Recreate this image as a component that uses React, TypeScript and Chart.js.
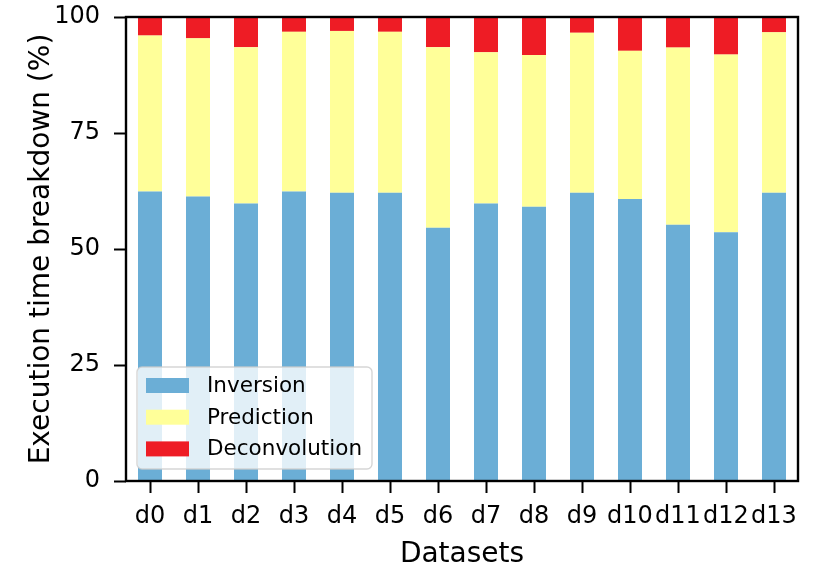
import React, { useEffect, useRef } from "react";
import { Chart, registerables } from "chart.js";

Chart.register(...registerables);

const categories = ["d0", "d1", "d2", "d3", "d4", "d5", "d6", "d7", "d8", "d9", "d10", "d11", "d12", "d13"];
const inversion = [62.4, 61.3, 59.8, 62.4, 62.1, 62.1, 54.6, 59.8, 59.1, 62.1, 60.8, 55.2, 53.6, 62.1];
const prediction = [33.6, 34.1, 33.7, 34.4, 34.9, 34.7, 38.9, 32.6, 32.7, 34.5, 31.9, 38.2, 38.3, 34.6];
const deconvolution = [4.0, 4.6, 6.5, 3.2, 3.0, 3.2, 6.5, 7.6, 8.2, 3.4, 7.3, 6.6, 8.1, 3.3];
const seriesNames = ["Inversion", "Prediction", "Deconvolution"];
const seriesColors = ["#6baed6", "#ffff99", "#ee1c25"];
const yTickValues = [0, 25, 50, 75, 100];
const xTitle = "Datasets";
const yTitle = "Execution time breakdown (%)";

const FONT = "'DejaVu Sans', sans-serif";

const framePlugin = {
  id: "mplFrame",
  afterDraw(chart: any) {
    const { ctx, chartArea: ca } = chart;
    ctx.save();
    // spines
    ctx.strokeStyle = "#000";
    ctx.lineWidth = 2.4;
    ctx.strokeRect(ca.left, ca.top, ca.right - ca.left, ca.bottom - ca.top);

    // legend
    const bx = ca.left + 11;
    const by = ca.bottom - 114;
    const bw = 235;
    const bh = 102;
    const r = 5;
    ctx.beginPath();
    ctx.moveTo(bx + r, by);
    ctx.lineTo(bx + bw - r, by);
    ctx.arcTo(bx + bw, by, bx + bw, by + r, r);
    ctx.lineTo(bx + bw, by + bh - r);
    ctx.arcTo(bx + bw, by + bh, bx + bw - r, by + bh, r);
    ctx.lineTo(bx + r, by + bh);
    ctx.arcTo(bx, by + bh, bx, by + bh - r, r);
    ctx.lineTo(bx, by + r);
    ctx.arcTo(bx, by, bx + r, by, r);
    ctx.closePath();
    ctx.fillStyle = "rgba(255,255,255,0.8)";
    ctx.fill();
    ctx.strokeStyle = "rgba(204,204,204,0.8)";
    ctx.lineWidth = 1.4;
    ctx.stroke();

    ctx.font = `21.5px ${FONT}`;
    ctx.textBaseline = "middle";
    ctx.textAlign = "left";
    chart.data.datasets.forEach((ds: any, i: number) => {
      const cy = by + 18.5 + i * 31.7;
      ctx.fillStyle = ds.backgroundColor;
      ctx.fillRect(bx + 9, cy - 7.5, 43, 15);
      ctx.fillStyle = "#000";
      ctx.fillText(ds.label, bx + 70, cy + 1);
    });
    ctx.restore();
  },
};

export default function App() {
  const ref = useRef<HTMLCanvasElement | null>(null);

  useEffect(() => {
    if (!ref.current) return;
    Chart.defaults.color = "#000";
    const seriesValues = [inversion, prediction, deconvolution];
    const chart = new Chart(ref.current, {
      type: "bar",
      data: {
        labels: categories,
        datasets: seriesNames.map((name, i) => ({
          label: name,
          data: seriesValues[i],
          backgroundColor: seriesColors[i],
          borderWidth: 0,
          barPercentage: 0.5,
          categoryPercentage: 1,
        })),
      },
      options: {
        responsive: false,
        animation: false,
        devicePixelRatio: 1,
        layout: { padding: { top: 17, right: 23, left: 0, bottom: 0 } },
        plugins: {
          legend: { display: false },
          tooltip: { enabled: false },
        },
        scales: {
          x: {
            stacked: true,
            offset: true,
            z: 1,
            border: { display: false },
            grid: {
              offset: false,
              drawOnChartArea: false,
              drawTicks: true,
              tickLength: 12,
              tickWidth: 2,
              tickColor: "#000",
            },
            ticks: {
              autoSkip: false,
              maxRotation: 0,
              minRotation: 0,
              padding: 12,
              color: "#000",
              font: { family: FONT, size: 24, lineHeight: 1 },
            },
            title: {
              display: true,
              text: xTitle,
              color: "#000",
              padding: { top: 0, bottom: 0 },
              font: { family: FONT, size: 28, lineHeight: 1 },
            },
            afterFit: (scale: any) => {
              scale.height = 88;
              scale.paddingLeft = 0;
              scale.paddingRight = 0;
            },
          },
          y: {
            stacked: true,
            min: 0,
            max: 100,
            z: 1,
            border: { display: false },
            afterBuildTicks: (scale: any) => {
              scale.ticks = yTickValues.map((v) => ({ value: v }));
            },
            grid: {
              drawOnChartArea: false,
              drawTicks: true,
              tickLength: 12,
              tickWidth: 2,
              tickColor: "#000",
            },
            ticks: {
              padding: 14,
              color: "#000",
              font: { family: FONT, size: 24, lineHeight: 1 },
            },
            title: {
              display: true,
              text: yTitle,
              color: "#000",
              padding: { top: 28, bottom: 0 },
              font: { family: FONT, size: 28, lineHeight: 1 },
            },
            afterFit: (scale: any) => {
              scale.width = 126;
              scale.paddingTop = 0;
              scale.paddingBottom = 0;
            },
          },
        },
      },
      plugins: [framePlugin],
    });
    return () => chart.destroy();
  }, []);

  return (
    <div style={{ position: "absolute", left: 0, top: 0, width: 821, height: 569, background: "#fff" }}>
      <canvas ref={ref} width={821} height={569} style={{ display: "block", width: 821, height: 569 }} />
    </div>
  );
}
